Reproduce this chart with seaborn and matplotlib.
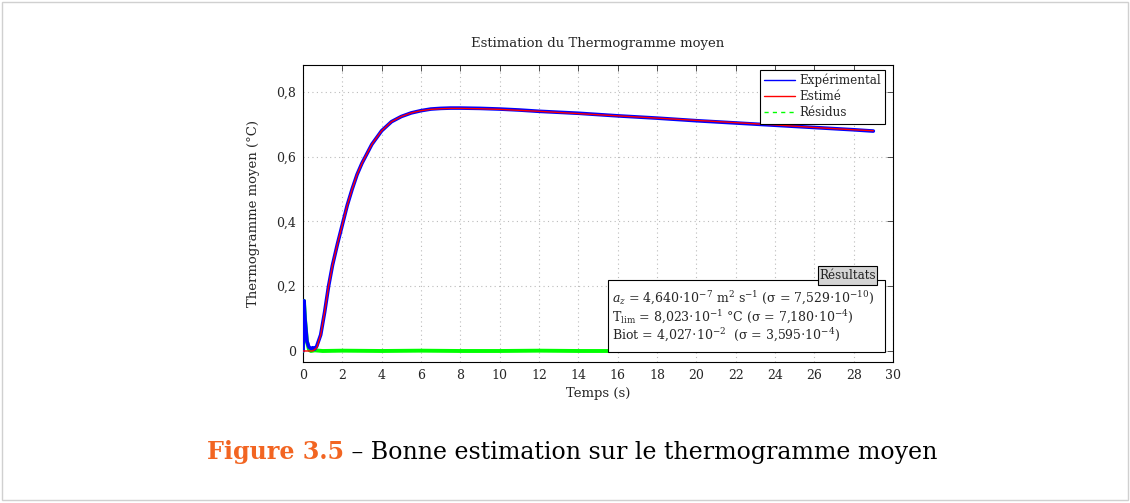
import matplotlib
matplotlib.use("Agg")
import matplotlib.pyplot as plt
import seaborn as sns
import pandas as pd
from matplotlib.lines import Line2D
from matplotlib.patches import Rectangle

# ---------------- data ----------------
t_est = [0, 0.5, 0.7, 0.9, 1.1, 1.3, 1.5, 1.75, 2.0, 2.25, 2.5, 2.75, 3.0, 3.5,
         4.0, 4.5, 5, 5.5, 6, 6.5, 7, 7.5, 8, 9, 10, 11, 12, 14, 16, 18, 20,
         22, 24, 26, 28, 29]
y_est = [0, 0, 0.01, 0.05, 0.12, 0.20, 0.265, 0.33, 0.39, 0.45, 0.50, 0.545,
         0.58, 0.638, 0.68, 0.708, 0.724, 0.735, 0.742, 0.746, 0.748, 0.749,
         0.749, 0.748, 0.746, 0.743, 0.740, 0.733, 0.726, 0.719, 0.712, 0.705,
         0.698, 0.690, 0.683, 0.680]

t_exp = [0, 0.05, 0.1, 0.2, 0.3, 0.4, 0.5, 0.6, 0.7, 0.9, 1.1, 1.3, 1.5, 1.75,
         2.0, 2.25, 2.5, 2.75, 3.0, 3.5, 4.0, 4.5, 5, 5.5, 6, 6.5, 7, 7.5, 8, 9,
         10, 11, 12, 14, 16, 18, 20, 22, 24, 26, 28, 29]
y_exp = [0.0, 0.155, 0.10, 0.03, 0.012, 0.008, 0.01, 0.006, 0.015, 0.05, 0.12,
         0.20, 0.265, 0.33, 0.39, 0.45, 0.50, 0.545, 0.58, 0.638, 0.68, 0.708,
         0.724, 0.735, 0.742, 0.747, 0.749, 0.750, 0.750, 0.749, 0.747, 0.744,
         0.740, 0.734, 0.726, 0.719, 0.711, 0.704, 0.697, 0.690, 0.683, 0.679]

t_res = [0, 0.05, 0.1, 0.2, 0.3, 0.4, 0.6, 1, 2, 4, 6, 8, 10, 12, 14, 16, 18,
         20, 22, 24, 26, 28, 29]
y_res = [0.0, 0.155, 0.10, 0.03, 0.005, 0.0, 0.002, 0.0, 0.001, 0.0, 0.001,
         0.0, 0.0, 0.001, 0.0, 0.0, 0.001, 0.0, 0.0, 0.001, 0.0, 0.0, 0.0]

x_ticks = list(range(0, 31, 2))
y_ticks = [0, 0.2, 0.4, 0.6, 0.8]
y_tick_labels = ["0", "0,2", "0,4", "0,6", "0,8"]

title = "Estimation du Thermogramme moyen"
x_label = "Temps (s)"
y_label = "Thermogramme moyen (°C)"
legend_labels = ["Expérimental", "Estimé", "Résidus"]
results_lines = [
    r"$a_z$ = 4,640$\cdot$10$^{-7}$ m$^2$ s$^{-1}$ (σ = 7,529$\cdot$10$^{-10}$)",
    r"T$_{\rm lim}$ = 8,023$\cdot$10$^{-1}$ °C (σ = 7,180$\cdot$10$^{-4}$)",
    r"Biot = 4,027$\cdot$10$^{-2}$  (σ = 3,595$\cdot$10$^{-4}$)",
]
caption_bold = "Figure 3.5"
caption_rest = " – Bonne estimation sur le thermogramme moyen"

# ---------------- style ----------------
sns.set_theme(style="white")
plt.rcParams["font.family"] = ["DejaVu Serif"]
plt.rcParams["mathtext.fontset"] = "dejavuserif"

fig = plt.figure(figsize=(11.3, 5.03), dpi=100)
W, H = 1130, 503
ax = fig.add_axes([303 / W, 1 - 362 / H, 590 / W, 297 / H])

df_exp = pd.DataFrame({"t": t_exp, "v": y_exp})
df_est = pd.DataFrame({"t": t_est, "v": y_est})
df_res = pd.DataFrame({"t": t_res, "v": y_res})

sns.lineplot(data=df_res, x="t", y="v", ax=ax, color="#00ff00", lw=2.8, zorder=3)
sns.lineplot(data=df_exp, x="t", y="v", ax=ax, color="#0000ff", lw=2.6, zorder=4)
sns.lineplot(data=df_est, x="t", y="v", ax=ax, color="#ff0000", lw=1.0, zorder=5)

ax.set_xlim(0, 30)
ax.set_ylim(-0.034, 0.883)
ax.set_xticks(x_ticks)
ax.set_xticklabels([str(v) for v in x_ticks])
ax.set_yticks(y_ticks)
ax.set_yticklabels(y_tick_labels)
ax.tick_params(direction="in", top=True, right=True, length=4, width=0.6,
               labelsize=9, color="#333333", pad=5)
ax.grid(True, linestyle=(0, (1, 3)), color="#bbbbbb", lw=0.8)
for s in ax.spines.values():
    s.set_color("black")
    s.set_linewidth(0.8)
ax.set_xlabel(x_label, fontsize=9.5, labelpad=4)
ax.set_ylabel(y_label, fontsize=9.5, labelpad=12)
ax.set_title(title, fontsize=9.5, pad=13)

handles = [Line2D([], [], color="#0000ff", lw=1),
           Line2D([], [], color="#ff0000", lw=1),
           Line2D([], [], color="#00ff00", lw=1, ls=(0, (3, 3)))]
leg = ax.legend(handles, legend_labels, loc="upper right",
                bbox_to_anchor=(0.987, 0.984), fontsize=8.6, frameon=True,
                fancybox=False, edgecolor="black", framealpha=1,
                borderpad=0.35, handlelength=2.6, handletextpad=0.35,
                labelspacing=0.25, borderaxespad=0)
leg.get_frame().set_linewidth(0.8)
leg.set_zorder(10)

# results box
box = Rectangle((0.517, 0.034), 0.469, 0.242, transform=ax.transAxes,
                facecolor="white", edgecolor="black", lw=0.8, zorder=11)
ax.add_patch(box)
tab = Rectangle((0.873, 0.258), 0.100, 0.064, transform=ax.transAxes,
                facecolor="#d4d4d4", edgecolor="black", lw=0.8, zorder=12)
ax.add_patch(tab)
ax.text(0.923, 0.290, "Résultats", transform=ax.transAxes, ha="center",
        va="center", fontsize=8.6, zorder=13, color="#222222")
for i, line in enumerate(results_lines):
    ax.text(0.524, 0.213 - i * 0.061, line, transform=ax.transAxes,
            ha="left", va="center", fontsize=9, zorder=13)

# figure frame
fig.patches.append(Rectangle((2 / W, 3 / H), 1126 / W, 498 / H,
                             transform=fig.transFigure, fill=False,
                             edgecolor="#d0d0d0", lw=1))

# caption, scaled to the reference width
fig.canvas.draw()
r = fig.canvas.get_renderer()
t1 = fig.text(0, 1 - 452 / H, caption_bold, color="#f26522",
              fontweight="bold", fontsize=18, va="center", ha="left")
t2 = fig.text(0, 1 - 452 / H, caption_rest, color="black",
              fontsize=18, va="center", ha="left")
w = t1.get_window_extent(r).width + t2.get_window_extent(r).width
fs = 18 * 733 / w
t1.set_fontsize(fs)
t2.set_fontsize(fs)
w1 = t1.get_window_extent(r).width
w2 = t2.get_window_extent(r).width
x0 = 572 - (w1 + w2) / 2
t1.set_x(x0 / W)
t2.set_x((x0 + w1) / W)

fig.savefig("out.png", dpi=100)
